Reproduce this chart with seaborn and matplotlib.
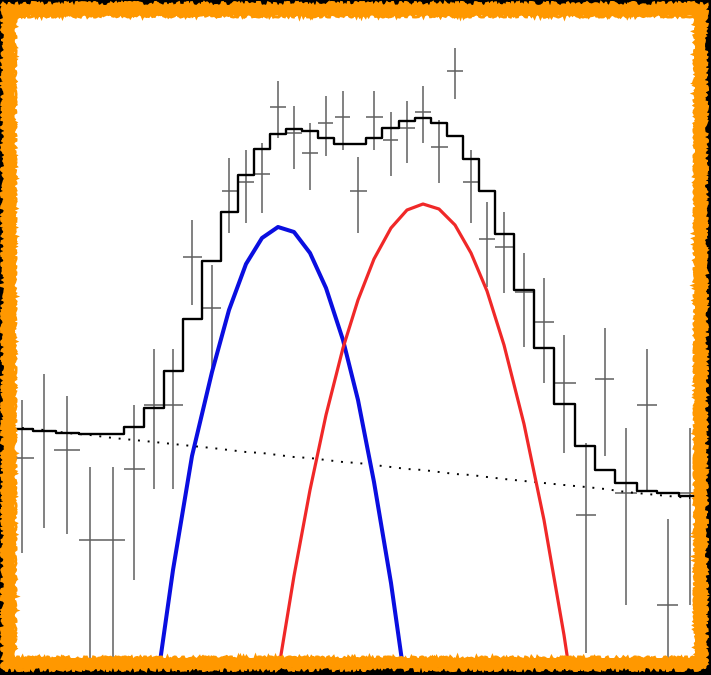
import numpy as np
import matplotlib
matplotlib.use("Agg")
import matplotlib.pyplot as plt
from matplotlib.patches import Rectangle
import seaborn as sns

# ---------------- data ----------------
# channel positions (bin centres) and bin limits of the measured points
x_center = [22, 44, 67, 90, 113, 134, 154, 173, 192, 212, 229, 246, 262, 278, 294,
            310, 326, 343, 358, 374, 391, 407, 423, 439, 455, 471, 487, 504, 524,
            544, 564, 586, 605, 626, 647, 668, 690]
x_low = [11, 33, 54, 79, 102, 124, 144, 164, 183, 203, 222, 238, 254, 270, 287,
         302, 318, 335, 350, 366, 383, 399, 415, 431, 447, 463, 479, 495, 515,
         534, 553, 576, 595, 615, 637, 657, 679]
x_high = [34, 55, 80, 102, 125, 145, 164, 183, 202, 221, 237, 254, 270, 286, 302,
          318, 333, 350, 367, 383, 398, 415, 431, 448, 463, 478, 495, 513, 533,
          554, 576, 596, 614, 637, 657, 678, 700]
# measured level (screen units, larger = lower on the plot) and its error range
data_level = [458, 431, 450, 540, 540, 469, 405, 405, 257, 308, 191, 182, 174, 107, 133,
              153, 123, 117, 191, 117, 140, 128, 112, 147, 71, 182, 239, 247, 292,
              322, 383, 515, 379, 493, 405, 605, 493]
err_top = [400, 374, 396, 467, 467, 405, 349, 349, 220, 265, 158, 150, 143, 81, 106,
           123, 96, 91, 157, 91, 112, 101, 86, 120, 48, 150, 202, 212, 253,
           278, 335, 443, 328, 428, 349, 519, 428]
err_bottom = [553, 528, 534, 700, 700, 580, 489, 489, 305, 373, 233, 223, 213, 138, 169,
              190, 156, 150, 233, 150, 176, 163, 143, 183, 99, 223, 287, 293, 347,
              383, 453, 653, 456, 605, 490, 700, 605]

# total model (step histogram)
model_edges = [11, 33, 56, 79, 102, 124, 144, 164, 183, 202, 221, 238, 254, 270, 286,
               302, 318, 334, 350, 366, 382, 399, 415, 431, 447, 463, 479, 495, 514,
               534, 554, 575, 595, 615, 637, 657, 679, 701]
model_level = [429, 431, 433, 434, 434, 427, 408, 371, 319, 261, 212, 175, 149, 134, 129,
               131, 138, 144, 144, 138, 128, 121, 118, 123, 136, 159, 191, 234, 290,
               348, 404, 446, 470, 483, 491, 493, 496]

# continuum (dotted)
continuum_level = [428, 430, 433, 435, 438, 440, 442, 444, 446, 448, 450, 452, 453, 455, 457,
                   458, 460, 462, 463, 465, 467, 469, 470, 472, 474, 475, 477, 479, 481,
                   483, 485, 487, 489, 492, 494, 496, 498]

# line components
blue_x = [134, 154, 173, 192, 212, 229, 246, 262, 278, 294, 310, 326, 343, 358, 374, 391, 407]
blue_level = [862, 704, 570, 456, 372, 310, 264, 238, 227, 232, 253, 288, 340, 400, 482, 583, 696]
red_x = [262, 278, 294, 310, 326, 343, 358, 374, 391, 407, 423, 439, 455, 471, 487,
         504, 524, 544, 564, 586]
red_level = [781, 673, 576, 490, 415, 348, 300, 259, 228, 210, 204, 209, 225, 253, 291,
             345, 424, 520, 635, 781]

# ---------------- figure ----------------
sns.set_style("white")
W, H = 711, 675
fig = plt.figure(figsize=(W / 100, H / 100), dpi=100, facecolor="black")

ORANGE = "#ff9800"
frame = Rectangle((3 / W, 6 / H), 703 / W, 665 / H, transform=fig.transFigure,
                  facecolor=ORANGE, edgecolor=ORANGE, lw=1.5, zorder=0)
frame.set_sketch_params(scale=2.0, length=6, randomness=20)
fig.add_artist(frame)

ax = fig.add_axes([14 / W, 17 / H, 681 / W, 643 / H])
ax.set_facecolor("white")
for s in ax.spines.values():
    s.set_visible(False)

# data points with error crosses
x_c = np.array(x_center)
y_c = np.array(data_level)
ax.errorbar(x_c, y_c,
            xerr=[x_c - np.array(x_low), np.array(x_high) - x_c],
            yerr=[y_c - np.array(err_top), np.array(err_bottom) - y_c],
            fmt="none", ecolor="#5f5f5f", elinewidth=1.1, capsize=0, zorder=2)

# continuum
sns.lineplot(x=x_center, y=continuum_level, ax=ax, color="black",
             linewidth=1.4, linestyle=(0, (1, 4)), zorder=3)

# total model as step histogram
sns.histplot(x=x_center, weights=model_level, bins=model_edges, element="step",
             fill=False, color="black", linewidth=1.7, ax=ax, zorder=4)

# gaussian components
sns.lineplot(x=blue_x, y=blue_level, ax=ax, color="#0a0ee0", linewidth=2.9, zorder=5)
sns.lineplot(x=red_x, y=red_level, ax=ax, color="#f02828", linewidth=2.3, zorder=5)

ax.set_xlim(14, 695)
ax.set_ylim(658, 15)
ax.set_xticks([])
ax.set_yticks([])
ax.set_xlabel("")
ax.set_ylabel("")

# rough inner edge of the frame
inner = Rectangle((14 / W, 17 / H), 681 / W, 643 / H, transform=fig.transFigure,
                  fill=False, edgecolor=ORANGE, lw=2.2, zorder=10)
inner.set_sketch_params(scale=1.5, length=4, randomness=20)
fig.add_artist(inner)

fig.savefig("out.png", dpi=100, facecolor="black")
